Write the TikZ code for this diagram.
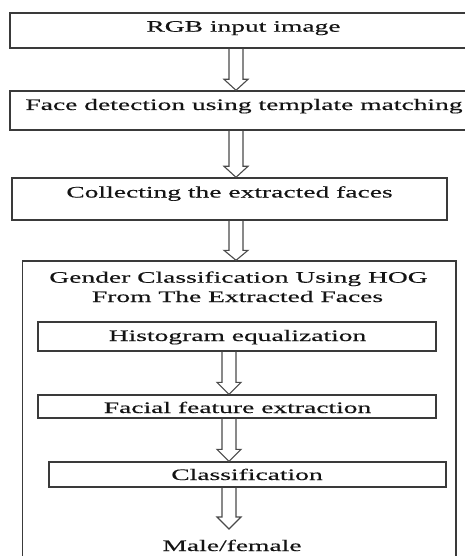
\documentclass[tikz,border=0pt]{standalone}
\usepackage{fontspec}
\setmainfont{Liberation Serif}[FakeStretch=1.72,FakeBold=0.35]
\usetikzlibrary{calc}
\definecolor{boxgray}{HTML}{3a3a3a}
\definecolor{arrgray}{HTML}{4a4a4a}
\definecolor{txtcol}{HTML}{141414}
\newcommand\dfont{\fontsize{16}{19.5}\selectfont}
\newcommand\harrow[3]{%
  \draw[arrowline] let \p1=(#1), \p2=(#2) in
    (\x1-7pt,\y1) -- (\x1-7pt,\y2+#3) -- (\x1-12pt,\y2+#3) -- (\x1,\y2)
    -- (\x1+12pt,\y2+#3) -- (\x1+7pt,\y2+#3) -- (\x1+7pt,\y1);}
\begin{document}
\begin{tikzpicture}[x=1pt,y=-1pt,
  box/.style={draw=boxgray, line width=1.4pt, inner sep=0pt, rectangle},
  arrowline/.style={draw=arrgray, line width=1.1pt, line join=miter},
  txt/.style={font=\dfont, text=txtcol, anchor=base, inner sep=0pt}]
\useasboundingbox (0,0) rectangle (465,556);
\begin{scope}
\clip (0,0) rectangle (465,556);
% outer boxes
\node[box, minimum width=467pt, minimum height=35pt] (b1) at (243.5,30.5) {};
\node[box, minimum width=467pt, minimum height=39pt] (b2) at (243.5,110.5) {};
\node[box, minimum width=435pt, minimum height=42pt] (b3) at (229.5,199) {};
\node[box, minimum width=433.3pt, minimum height=309pt] (b4) at (239.35,415.5) {};
% inner boxes
\node[box, minimum width=398pt, minimum height=29pt] (i1) at (237,336.5) {};
\node[box, minimum width=398pt, minimum height=23pt] (i2) at (237,406.5) {};
\node[box, minimum width=397pt, minimum height=25pt] (i3) at (247.5,474.5) {};
\end{scope}
% texts
\node[txt] (t1) at (243.5,31.7) {RGB input image};
\node[txt] (t2) at (244,110) {Face detection using template matching};
\node[txt] (t3) at (229.5,197.5) {Collecting the extracted faces};
\node[txt] (g1) at (238.5,282.7) {Gender Classification Using HOG};
\node[txt] (g2) at (237.5,302) {From The Extracted Faces};
\node[txt] (h) at (237.5,341) {Histogram equalization};
\node[txt] (f) at (237.5,413) {Facial feature extraction};
\node[txt] (c) at (247,480) {Classification};
\node[txt] (m) at (232,551) {Male/female};
% arrow axes
\coordinate (ox) at (236,0);
\coordinate (ix) at (229,0);
\coordinate (tip6) at (229,529);
\harrow{b1.south -| ox}{b2.north -| ox}{11pt}
\harrow{b2.south -| ox}{b3.north -| ox}{11pt}
\harrow{b3.south -| ox}{b4.north -| ox}{10pt}
\harrow{i1.south -| ix}{i2.north -| ix}{12pt}
\harrow{i2.south -| ix}{i3.north -| ix}{12pt}
\harrow{i3.south -| ix}{tip6}{12pt}
\end{tikzpicture}
\end{document}
